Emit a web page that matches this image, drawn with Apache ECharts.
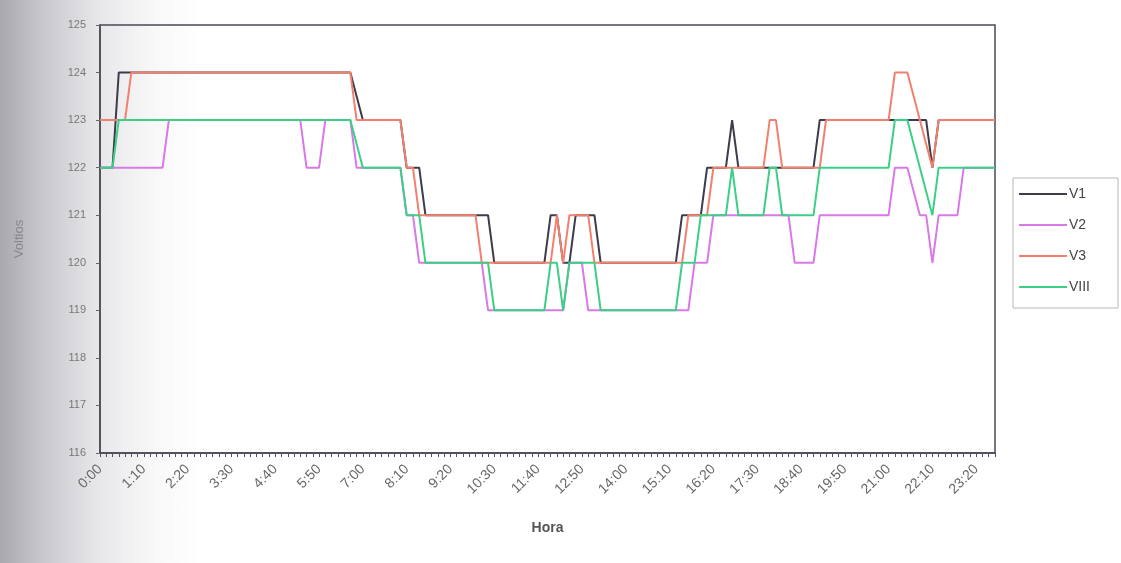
<!DOCTYPE html>
<html>
<head>
<meta charset="utf-8">
<script src="https://cdn.jsdelivr.net/npm/echarts@6/dist/echarts.min.js"></script>
<style>
  html, body { margin: 0; padding: 0; }
  body { width: 1121px; height: 563px; background: linear-gradient(to right, #a8a8ae 0px, #c9c9ce 45px, #e6e6e9 95px, #f7f7f8 150px, #ffffff 200px); }
  #chart { width: 1121px; height: 563px; }
</style>
</head>
<body>
<div id="chart"></div>
<script>
// Categories: time of day, every 10 minutes
const categories = [
  "0:00","0:10","0:20","0:30","0:40","0:50",
  "1:00","1:10","1:20","1:30","1:40","1:50",
  "2:00","2:10","2:20","2:30","2:40","2:50",
  "3:00","3:10","3:20","3:30","3:40","3:50",
  "4:00","4:10","4:20","4:30","4:40","4:50",
  "5:00","5:10","5:20","5:30","5:40","5:50",
  "6:00","6:10","6:20","6:30","6:40","6:50",
  "7:00","7:10","7:20","7:30","7:40","7:50",
  "8:00","8:10","8:20","8:30","8:40","8:50",
  "9:00","9:10","9:20","9:30","9:40","9:50",
  "10:00","10:10","10:20","10:30","10:40","10:50",
  "11:00","11:10","11:20","11:30","11:40","11:50",
  "12:00","12:10","12:20","12:30","12:40","12:50",
  "13:00","13:10","13:20","13:30","13:40","13:50",
  "14:00","14:10","14:20","14:30","14:40","14:50",
  "15:00","15:10","15:20","15:30","15:40","15:50",
  "16:00","16:10","16:20","16:30","16:40","16:50",
  "17:00","17:10","17:20","17:30","17:40","17:50",
  "18:00","18:10","18:20","18:30","18:40","18:50",
  "19:00","19:10","19:20","19:30","19:40","19:50",
  "20:00","20:10","20:20","20:30","20:40","20:50",
  "21:00","21:10","21:20","21:30","21:40","21:50",
  "22:00","22:10","22:20","22:30","22:40","22:50",
  "23:00","23:10","23:20","23:30","23:40","23:50"
];

const seriesNames = ["V1", "V2", "V3", "VIII"];

const V1 = [
  122,122,122,124,124,124,124,124,124,124,
  124,124,124,124,124,124,124,124,124,124,
  124,124,124,124,124,124,124,124,124,124,
  124,124,124,124,124,124,124,124,124,124,
  124,123.5,123,123,123,123,123,123,123,122,
  122,122,121,121,121,121,121,121,121,121,
  121,121,121,120,120,120,120,120,120,120,
  120,120,121,121,120,120,121,121,121,121,
  120,120,120,120,120,120,120,120,120,120,
  120,120,120,121,121,121,121,122,122,122,
  122,123,122,122,122,122,122,122,122,122,
  122,122,122,122,122,123,123,123,123,123,
  123,123,123,123,123,123,123,123,123,123,
  123,123,123,122,123,123,123,123,123,123,
  123,123,123,123
];

const V2 = [
  122,122,122,122,122,122,122,122,122,122,
  122,123,123,123,123,123,123,123,123,123,
  123,123,123,123,123,123,123,123,123,123,
  123,123,123,122,122,122,123,123,123,123,
  123,122,122,122,122,122,122,122,122,121,
  121,120,120,120,120,120,120,120,120,120,
  120,120,119,119,119,119,119,119,119,119,
  119,119,119,119,119,120,120,120,119,119,
  119,119,119,119,119,119,119,119,119,119,
  119,119,119,119,119,120,120,120,121,121,
  121,121,121,121,121,121,121,121,121,121,
  121,120,120,120,120,121,121,121,121,121,
  121,121,121,121,121,121,121,122,122,122,
  121.5,121,121,120,121,121,121,121,122,122,
  122,122,122,122
];

const V3 = [
  123,123,123,123,123,124,124,124,124,124,
  124,124,124,124,124,124,124,124,124,124,
  124,124,124,124,124,124,124,124,124,124,
  124,124,124,124,124,124,124,124,124,124,
  124,123,123,123,123,123,123,123,123,122,
  122,121,121,121,121,121,121,121,121,121,
  121,120,120,120,120,120,120,120,120,120,
  120,120,120,121,120,121,121,121,121,120,
  120,120,120,120,120,120,120,120,120,120,
  120,120,120,120,121,121,121,121,122,122,
  122,122,122,122,122,122,122,123,123,122,
  122,122,122,122,122,122,123,123,123,123,
  123,123,123,123,123,123,123,124,124,124,
  123.5,123,122.5,122,123,123,123,123,123,123,
  123,123,123,123
];

const VIII = [
  122,122,122,123,123,123,123,123,123,123,
  123,123,123,123,123,123,123,123,123,123,
  123,123,123,123,123,123,123,123,123,123,
  123,123,123,123,123,123,123,123,123,123,
  123,122.5,122,122,122,122,122,122,122,121,
  121,121,120,120,120,120,120,120,120,120,
  120,120,120,119,119,119,119,119,119,119,
  119,119,120,120,119,120,120,120,120,120,
  119,119,119,119,119,119,119,119,119,119,
  119,119,119,120,120,120,121,121,121,121,
  121,122,121,121,121,121,121,122,122,121,
  121,121,121,121,121,122,122,122,122,122,
  122,122,122,122,122,122,122,123,123,123,
  122.5,122,121.5,121,122,122,122,122,122,122,
  122,122,122,122
];

const seriesData = [V1, V2, V3, VIII];
const seriesColors = ["#3c3c4a", "#d77ae6", "#f2806e", "#3ccf86"];

const chart = echarts.init(document.getElementById('chart'), null, { renderer: 'canvas' });

const option = {
  backgroundColor: 'transparent',
  animation: false,
  grid: {
    left: 100, right: 126, top: 25, bottom: 110,
    show: true, borderColor: '#4a4a55', borderWidth: 1.5, backgroundColor: 'transparent'
  },
  legend: {
    orient: 'vertical',
    left: 1013, top: 178,
    padding: [9, 28, 14, 6],
    itemGap: 17,
    itemWidth: 48, itemHeight: 2,
    icon: 'rect',
    borderColor: '#b8b8b8', borderWidth: 1,
    textStyle: { fontFamily: 'Liberation Sans, Arial, sans-serif', fontSize: 14, color: '#444', padding: [0,0,0,-3] },
    data: seriesNames
  },
  xAxis: {
    type: 'category',
    data: categories,
    boundaryGap: false,
    name: 'Hora',
    nameLocation: 'middle',
    nameGap: 68,
    nameTextStyle: { fontFamily: 'Liberation Sans, Arial, sans-serif', fontSize: 14, fontWeight: 'bold', color: '#555' },
    axisLine: { lineStyle: { color: '#4a4a55', width: 1.5 } },
    axisTick: { show: true, interval: 0, length: 4, lineStyle: { color: '#555' } },
    axisLabel: {
      interval: 6, rotate: 45, margin: 14,
      fontFamily: 'Liberation Sans, Arial, sans-serif', fontSize: 14, color: '#666'
    },
    splitLine: { show: false }
  },
  yAxis: {
    type: 'value',
    min: 116, max: 125, interval: 1,
    name: 'Voltios',
    nameLocation: 'middle',
    nameGap: 74,
    nameRotate: 90,
    nameTextStyle: { fontFamily: 'Liberation Sans, Arial, sans-serif', fontSize: 13, color: '#888' },
    axisLine: { show: true, lineStyle: { color: '#4a4a55', width: 1.5 } },
    axisTick: { show: true, length: 4, lineStyle: { color: '#666' } },
    axisLabel: { fontFamily: 'Liberation Sans, Arial, sans-serif', fontSize: 11, color: '#777', margin: 14 },
    splitLine: { show: false }
  },
  series: seriesNames.map((name, k) => ({
    name: name,
    type: 'line',
    data: seriesData[k],
    showSymbol: false,
    symbol: 'none',
    lineStyle: { width: 2, color: seriesColors[k] },
    itemStyle: { color: seriesColors[k] }
  }))
};

chart.setOption(option);
</script>
</body>
</html>
